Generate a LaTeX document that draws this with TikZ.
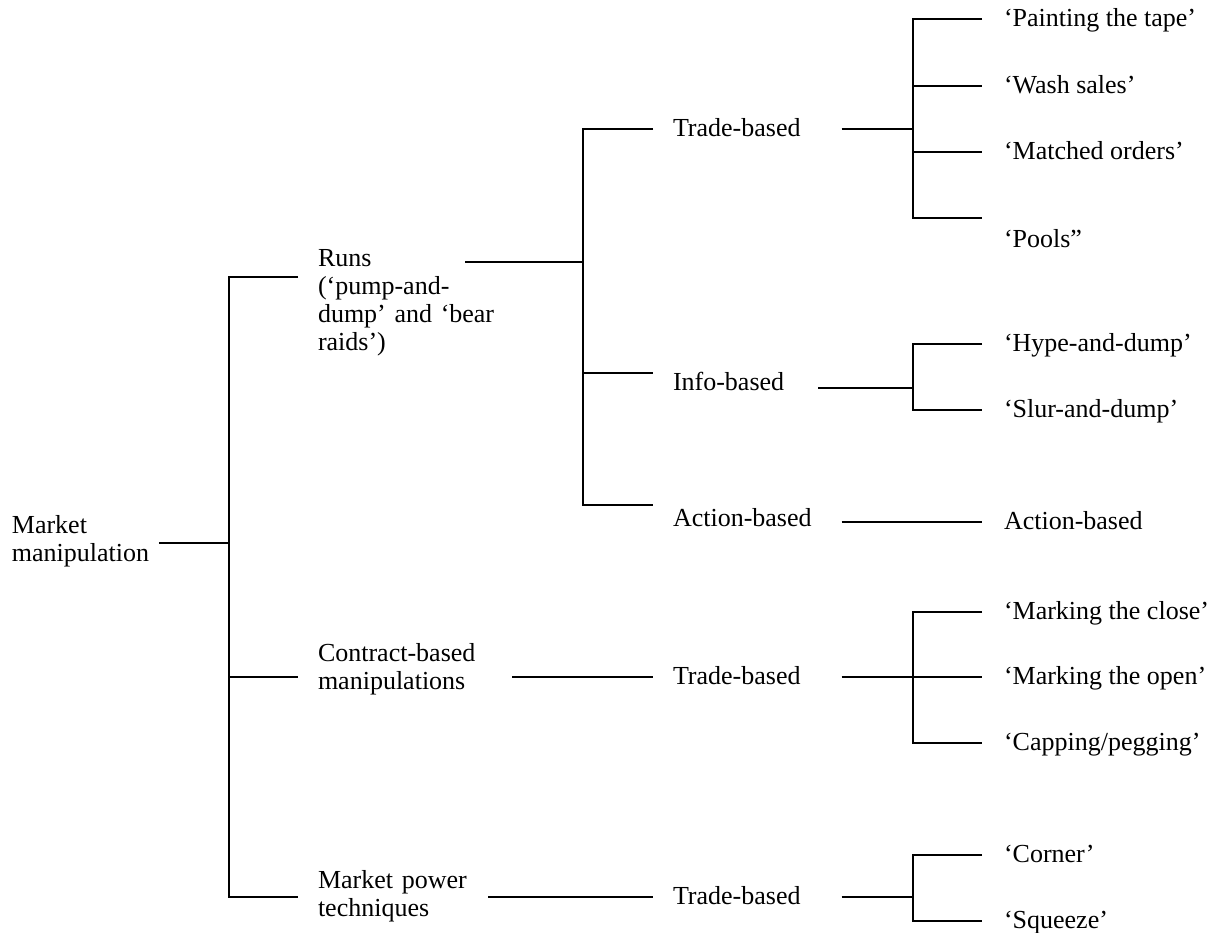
\documentclass[tikz,border=0pt]{standalone}
\usepackage{fontspec}
\setmainfont{Liberation Serif}
\hyphenpenalty=10000
\exhyphenpenalty=10000

\begin{document}
\begin{tikzpicture}[
  x=0.5pt, y=-0.5pt,
  every node/.style={font=\fontsize{13}{14}\selectfont, inner sep=0pt},
  rootbox/.style={anchor=north west, align=left},
  groupbox/.style={anchor=north west, align=left, outer xsep=10pt},
  kindbox/.style={anchor=west, align=left, outer xsep=10pt, text height=0.75em, text depth=0pt},
  leafbox/.style={anchor=west, outer xsep=11pt, text height=0.75em, text depth=0pt},
  link/.style={line width=1pt}
]
  \useasboundingbox (0,0) rectangle (1215,932);

  % root
  \node[rootbox, text width=73.25pt] (root) at (11.5,515) {Market\\manipulation};

  % 1st level
  \node[groupbox, text width=63.5pt] (runs) at (298,249) {Runs\\(‘pump-and-\\dump’~and~‘bear\\raids’)};
  \node[groupbox, text width=87pt] (contract) at (298,643) {Contract-based\\manipulations};
  \node[groupbox, text width=75pt] (power) at (298,870) {Market~power\\techniques};

  % 2nd level
  \node[kindbox, text width=74.25pt] (trade1) at (653,129) {Trade-based};
  \node[kindbox, text width=62.5pt] (info) at (653,383) {Info-based};
  \node[kindbox, text width=74.25pt] (action) at (653,519) {Action-based};
  \node[kindbox, text width=74.25pt] (trade2) at (653,677) {Trade-based};
  \node[kindbox, text width=74.25pt] (trade3) at (653,897) {Trade-based};

  % leaves
  \node[leafbox] (tape) at (982,19) {‘Painting the tape’};
  \node[leafbox] (wash) at (982,86) {‘Wash sales’};
  \node[leafbox] (matched) at (982,152) {‘Matched orders’};
  \node[leafbox, anchor=base west] (pools) at (982,247) {‘Pools”};
  \node[leafbox] (hype) at (982,344) {‘Hype-and-dump’};
  \node[leafbox] (slur) at (982,410) {‘Slur-and-dump’};
  \node[leafbox] (act2) at (982,522) {Action-based};
  \node[leafbox] (close) at (982,612) {‘Marking the close’};
  \node[leafbox] (open) at (982,677) {‘Marking the open’};
  \node[leafbox] (capping) at (982,743) {‘Capping/pegging’};
  \node[leafbox] (corner) at (982,855) {‘Corner’};
  \node[leafbox] (squeeze) at (982,921) {‘Squeeze’};

  % bars and off-centre junctions
  \coordinate (bar1) at (228.5,0);
  \coordinate (bar2) at (583,0);
  \coordinate (bar3) at (912.5,0);
  \coordinate (j-root) at (228.5,543);
  \coordinate (j-runs) at (228.5,277);
  \coordinate (j-runs-out) at (583,262);
  \coordinate (j-info) at (583,373);
  \coordinate (j-act) at (583,505);
  \coordinate (j-info-out) at (912.5,388);
  \coordinate (j-pools) at (912.5,218);

  % root -> 1st level
  \draw[link] (root.east |- j-root) -- (j-root);
  \draw[link] (runs.west |- j-runs) -- (j-runs) -- (bar1 |- trade3.west) -- (power.west |- trade3.west);
  \draw[link] (bar1 |- trade2.west) -- (contract.west |- trade2.west);

  % 1st -> 2nd level
  \draw[link] (runs.east |- j-runs-out) -- (j-runs-out);
  \draw[link] (trade1.west) -- (bar2 |- trade1.west) -- (j-act) -- (action.west |- j-act);
  \draw[link] (j-info) -- (info.west |- j-info);
  \draw[link] (contract.east |- trade2.west) -- (trade2.west);
  \draw[link] (power.east |- trade3.west) -- (trade3.west);

  % 2nd level -> leaves
  \draw[link] (trade1.east) -- (bar3 |- trade1.east);
  \draw[link] (tape.west) -- (bar3 |- tape.west) -- (j-pools) -- (pools.west |- j-pools);
  \draw[link] (bar3 |- wash.west) -- (wash.west);
  \draw[link] (bar3 |- matched.west) -- (matched.west);
  \draw[link] (info.east |- j-info-out) -- (j-info-out);
  \draw[link] (hype.west) -| (bar3 |- slur.west) -- (slur.west);
  \draw[link] (action.east |- act2.west) -- (act2.west);
  \draw[link] (trade2.east) -- (open.west);
  \draw[link] (close.west) -| (bar3 |- capping.west) -- (capping.west);
  \draw[link] (trade3.east) -- (bar3 |- trade3.east);
  \draw[link] (corner.west) -| (bar3 |- squeeze.west) -- (squeeze.west);
\end{tikzpicture}
\end{document}
